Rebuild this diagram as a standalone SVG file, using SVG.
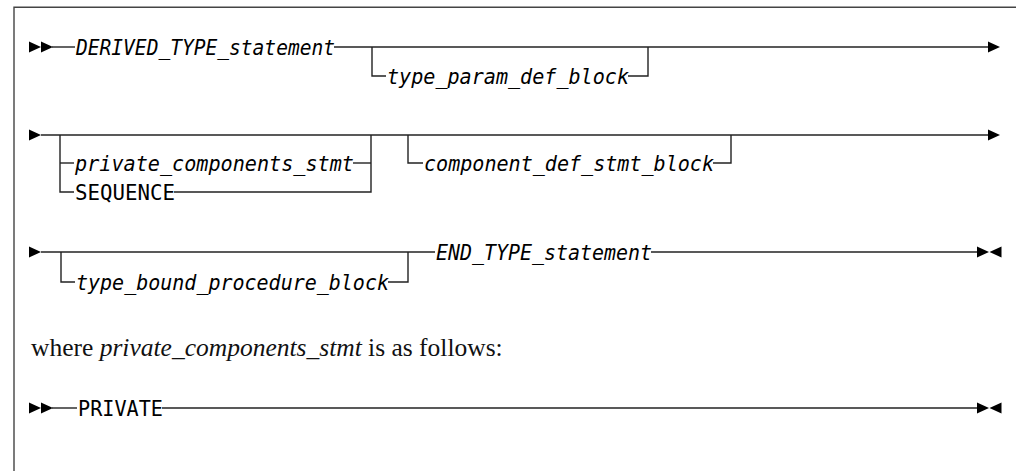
<svg xmlns="http://www.w3.org/2000/svg" width="1016" height="471" viewBox="0 0 1016 471">
<style>
.ln{fill:none;stroke:#222;stroke-width:1.4}
.fr{fill:none;stroke:#444;stroke-width:1.4}
.ar{fill:#000}
.mono{font-family:"DejaVu Sans Mono","Liberation Mono",monospace;font-size:21px;fill:#000}
.it{font-style:italic}
.ser{font-family:"Liberation Serif","DejaVu Serif",serif;font-size:25.5px;fill:#111}
</style>
<defs>
<path id="rt" d="M0,-5.5 L12,0 L0,5.5 Z"/>
<path id="lt" d="M12,-5.5 L0,0 L12,5.5 Z"/>
</defs>
<rect width="1016" height="471" fill="#fff"/>
<g id="frame">
<path class="fr" d="M14,471 V7.3 H1016"/>
</g>
<g id="connectors">
<!-- row 1 -->
<use href="#rt" class="ar" x="29" y="47"/>
<use href="#rt" class="ar" x="41" y="47"/>
<path class="ln" d="M52,47 H75"/>
<path class="ln" d="M334,47 H989"/>
<use href="#rt" class="ar" x="988" y="47"/>
<path class="ln" d="M372,47 V76 H386"/>
<path class="ln" d="M628,76 H648 V47"/>
<!-- row 2 -->
<use href="#rt" class="ar" x="29" y="135"/>
<path class="ln" d="M41,135 H989"/>
<use href="#rt" class="ar" x="988" y="135"/>
<path class="ln" d="M60,135 V192 H74"/>
<path class="ln" d="M60,163 H74"/>
<path class="ln" d="M353,163 H371"/>
<path class="ln" d="M174,192 H371 V135"/>
<path class="ln" d="M408,135 V163 H423"/>
<path class="ln" d="M713,163 H731 V135"/>
<!-- row 3 -->
<use href="#rt" class="ar" x="29" y="252"/>
<path class="ln" d="M41,252 H435"/>
<path class="ln" d="M651,252 H978"/>
<use href="#rt" class="ar" x="977" y="252"/>
<use href="#lt" class="ar" x="989.5" y="252"/>
<path class="ln" d="M61,252 V282 H75"/>
<path class="ln" d="M388,282 H408 V252"/>
<!-- row 4 -->
<use href="#rt" class="ar" x="29" y="408"/>
<use href="#rt" class="ar" x="41" y="408"/>
<path class="ln" d="M52,408 H77"/>
<path class="ln" d="M162,408 H978"/>
<use href="#rt" class="ar" x="977" y="408"/>
<use href="#lt" class="ar" x="989.5" y="408"/>
</g>
<g id="n-derived"><text class="mono it" x="76" y="54.5" textLength="259" lengthAdjust="spacingAndGlyphs">DERIVED_TYPE_statement</text></g>
<g id="n-typeparam"><text class="mono it" x="387" y="83.5" textLength="242" lengthAdjust="spacingAndGlyphs">type_param_def_block</text></g>
<g id="n-private"><text class="mono it" x="75" y="170.5" textLength="279" lengthAdjust="spacingAndGlyphs">private_components_stmt</text></g>
<g id="n-sequence"><text class="mono" x="75" y="199.5" textLength="100" lengthAdjust="spacingAndGlyphs">SEQUENCE</text></g>
<g id="n-compdef"><text class="mono it" x="424" y="170.5" textLength="290" lengthAdjust="spacingAndGlyphs">component_def_stmt_block</text></g>
<g id="n-typebound"><text class="mono it" x="76" y="289.5" textLength="313" lengthAdjust="spacingAndGlyphs">type_bound_procedure_block</text></g>
<g id="n-endtype"><text class="mono it" x="436" y="259.5" textLength="216" lengthAdjust="spacingAndGlyphs">END_TYPE_statement</text></g>
<g id="note"><text class="ser" x="31" y="356">where <tspan font-style="italic">private_components_stmt</tspan> is as follows:</text></g>
<g id="n-privkw"><text class="mono" x="78" y="415.5" textLength="85" lengthAdjust="spacingAndGlyphs">PRIVATE</text></g>
</svg>
